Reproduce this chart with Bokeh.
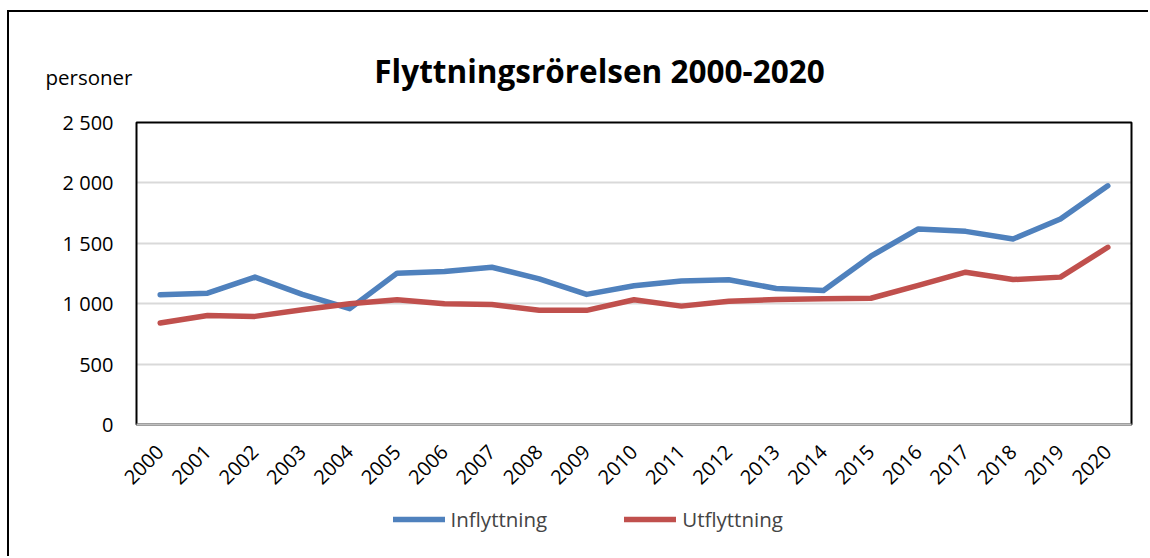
from math import pi
from bokeh.plotting import figure
from bokeh.models import (Range1d, FixedTicker, Legend, LegendItem, Label,
                          BoxAnnotation)
from bokeh.core.properties import value
from bokeh.embed import file_html
from bokeh.resources import INLINE

# ---------------- data ----------------
years = list(range(2000, 2021))
inflyttning = [1074, 1087, 1220, 1077, 959, 1253, 1266, 1302, 1206, 1077, 1148,
               1187, 1198, 1126, 1110, 1393, 1619, 1599, 1536, 1701, 1976]
utflyttning = [840, 903, 895, 950, 1000, 1033, 1000, 994, 945, 945, 1033,
               980, 1021, 1035, 1040, 1045, 1151, 1261, 1200, 1220, 1467]
y_ticks = [0, 500, 1000, 1500, 2000, 2500]
y_tick_labels = ["0", "500", "1 000", "1 500", "2 000", "2 500"]
title_text = "Flyttningsrörelsen 2000-2020"
unit_text = "personer"
series_names = ["Inflyttning", "Utflyttning"]
colors = ["#4F81BD", "#C0504D"]

# ---------------- layout constants (page pixels) ----------------
FONT = "Open Sans"
CANVAS_X, CANVAS_Y = 9, 12          # canvas origin on the page
W, H = 1141, 546                    # canvas size
BOX_L, BOX_R, BOX_T, BOX_B = 136, 1131, 122, 424   # plot box on the page
x_lo, x_hi = years[0] - 0.5, years[-1] + 0.5
y_lo, y_hi = y_ticks[0], y_ticks[-1]

ppx = (BOX_R - BOX_L) / (x_hi - x_lo)        # pixels per year
ppy = (BOX_B - BOX_T) / (y_hi - y_lo)        # pixels per person
x_start = x_lo - (BOX_L - CANVAS_X) / ppx
x_end = x_start + W / ppx
y_end = (BOX_B - CANVAS_Y) / ppy
y_start = -(CANVAS_Y + H - BOX_B) / ppy


def dx(px):
    return x_start + (px - CANVAS_X) / ppx


def dy(py):
    return (BOX_B - py) / ppy


p = figure(width=W, height=H, output_backend="svg", toolbar_location=None,
           title=None,
           x_range=Range1d(x_start, x_end), y_range=Range1d(y_start, y_end),
           min_border=0, min_border_left=0, min_border_right=0,
           min_border_top=0, min_border_bottom=0)
p.styles = {"margin-left": "7px", "margin-top": "10px",
            "border-left": "2px solid black", "border-top": "2px solid black"}
p.background_fill_color = "white"
p.border_fill_color = "white"
p.outline_line_color = None

# x axis (years) fixed at y = 0
xa = p.xaxis[0]
xa.fixed_location = y_lo
xa.bounds = (x_lo, x_hi)
xa.ticker = FixedTicker(ticks=years)
xa.major_label_orientation = pi / 4
xa.major_label_text_font = FONT
xa.major_label_text_font_size = "20px"
xa.major_label_text_color = "black"
xa.major_tick_line_color = None
xa.minor_tick_line_color = None
xa.major_tick_out = 0
xa.major_tick_in = 0
xa.axis_line_color = "#BFBFBF"
xa.axis_line_width = 2
xa.major_label_standoff = 24

# y axis fixed at the left edge of the plot box
ya = p.yaxis[0]
ya.fixed_location = x_lo
ya.bounds = (y_lo, y_hi)
ya.ticker = FixedTicker(ticks=y_ticks)
ya.major_label_overrides = {t: l for t, l in zip(y_ticks, y_tick_labels)}
ya.major_label_text_font = FONT
ya.major_label_text_font_size = "20px"
ya.major_label_text_color = "black"
ya.major_tick_line_color = None
ya.minor_tick_line_color = None
ya.major_tick_out = 0
ya.major_tick_in = 0
ya.axis_line_color = None
ya.major_label_standoff = 23

# horizontal grid lines only inside the plot box
grid_vals = y_ticks[1:-1]
p.xgrid.visible = False
yg = p.ygrid[0]
yg.ticker = FixedTicker(ticks=grid_vals)
yg.grid_line_color = "#D9D9D9"
yg.grid_line_width = 2
if "cross_bounds" in yg.properties():
    yg.cross_bounds = (x_lo, x_hi)
else:
    yg.visible = False
    p.segment(x0=[x_lo] * len(grid_vals), y0=grid_vals,
              x1=[x_hi] * len(grid_vals), y1=grid_vals,
              line_color="#D9D9D9", line_width=2, level="underlay")

# plot box border (black)
p.add_layout(BoxAnnotation(left=x_lo, right=x_hi, bottom=y_lo, top=y_hi,
                           fill_alpha=0, line_color="black", line_alpha=1.0,
                           line_width=2, level="underlay"))

r1 = p.line(years, inflyttning, line_color=colors[0], line_width=5.5,
            line_join="round", line_cap="round")
r2 = p.line(years, utflyttning, line_color=colors[1], line_width=5.5,
            line_join="round", line_cap="round")

# title and unit text
p.add_layout(Label(x=dx(599), y=dy(70), text=title_text, text_font=FONT,
                   text_font_size="31.5px", text_font_style="bold",
                   text_align="center", text_baseline="alphabetic",
                   text_color="black"))
p.add_layout(Label(x=dx(45), y=dy(76), text=unit_text, text_font=FONT,
                   text_font_size="20.5px", text_align="left",
                   text_baseline="alphabetic", text_color="black"))

# legend below the x labels
LEG_H = 30
legend = Legend(items=[LegendItem(label=value(series_names[0]), renderers=[r1]),
                       LegendItem(label=value(series_names[1]), renderers=[r2])],
                orientation="horizontal",
                location=(392.5 - CANVAS_X, (CANVAS_Y + H) - (519 + LEG_H / 2)),
                padding=0, margin=0, spacing=77, label_standoff=6,
                glyph_width=52, glyph_height=LEG_H, label_height=LEG_H,
                label_text_font=FONT, label_text_font_size="20.5px",
                border_line_color=None, background_fill_alpha=0)
p.add_layout(legend)

open("out.html", "w").write(file_html(p, INLINE))
